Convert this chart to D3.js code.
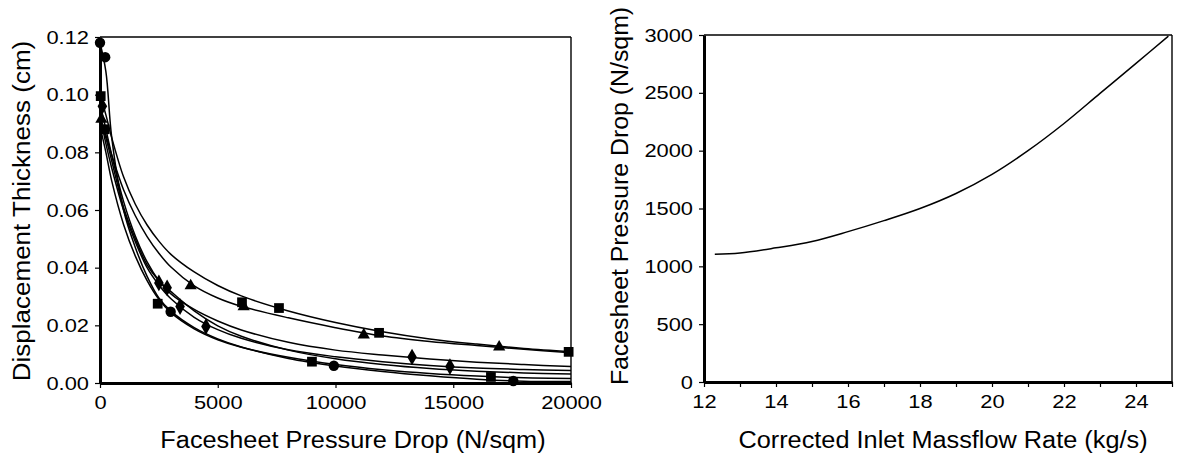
<!DOCTYPE html>
<html>
<head>
<meta charset="utf-8">
<script src="https://cdn.jsdelivr.net/npm/d3@7"></script>
<style>
  body { margin: 0; background: #fff; }
  text { font-family: "Liberation Sans", Arial, Helvetica, sans-serif; fill: #000; }
</style>
</head>
<body>
<svg id="chart" width="1179" height="468"></svg>
<script>
// ---- left panel: fitted curves, read at a common pressure grid ----
var pressureGrid = [0, 250, 500, 1000, 1500, 2000, 2500, 3000, 4000, 5000, 6000, 8000, 10000, 12000, 14000, 16000, 18000, 20000];
var fitS  = [0.100, 0.093, 0.085, 0.0715, 0.062, 0.0548, 0.0492, 0.0447, 0.0385, 0.0338, 0.0302, 0.0250, 0.0210, 0.0178, 0.0153, 0.0135, 0.0120, 0.0109];
var fitT  = [0.0925, 0.086, 0.079, 0.067, 0.058, 0.0508, 0.0450, 0.0403, 0.0337, 0.0295, 0.0266, 0.0226, 0.0192, 0.0163, 0.0144, 0.0130, 0.0117, 0.0105];
var fitD1 = [0.097, 0.088, 0.079, 0.063, 0.051, 0.042, 0.0355, 0.0310, 0.0255, 0.0215, 0.0184, 0.0141, 0.0114, 0.0097, 0.0083, 0.0072, 0.0064, 0.0057];
var fitD2 = [0.091, 0.085, 0.077, 0.061, 0.050, 0.041, 0.0355, 0.0318, 0.0250, 0.0198, 0.0162, 0.0114, 0.0084, 0.0064, 0.0050, 0.0041, 0.0035, 0.0031];
var fitD3 = [0.093, 0.083, 0.0745, 0.060, 0.049, 0.040, 0.0340, 0.0293, 0.0228, 0.0185, 0.0155, 0.0115, 0.0091, 0.0074, 0.0061, 0.0052, 0.0047, 0.0043];
var fitSq = [0.089, 0.080, 0.070, 0.055, 0.044, 0.0355, 0.0290, 0.0245, 0.0188, 0.0150, 0.0124, 0.0089, 0.0064, 0.0046, 0.0033, 0.0024, 0.0018, 0.0016];
var fitCi = [0.118, 0.108, 0.085, 0.060, 0.047, 0.0370, 0.0295, 0.0250, 0.0192, 0.0153, 0.0125, 0.0085, 0.0059, 0.0040, 0.0025, 0.0013, 0.0006, 0.0005];

// ---- left panel: measured points ----
var ptsSx  = [30, 6030, 7600, 11850, 19900];
var ptsSy  = [0.0995, 0.028, 0.026, 0.0174, 0.0108];
var ptsTx  = [60, 3850, 6100, 11200, 16950];
var ptsTy  = [0.0915, 0.0337, 0.0265, 0.0167, 0.0125];
var ptsD1x = [100, 2500, 13250];
var ptsD1y = [0.096, 0.0347, 0.009];
var ptsD2x = [2850];
var ptsD2y = [0.033];
var ptsD3x = [3400, 4500, 14860];
var ptsD3y = [0.0265, 0.0196, 0.0057];
var ptsSqx = [200, 2450, 9000, 16600];
var ptsSqy = [0.088, 0.0275, 0.0074, 0.0021];
var ptsCix = [0, 220, 3000, 9930, 17550];
var ptsCiy = [0.118, 0.113, 0.0247, 0.006, 0.0007];

// ---- right panel ----
var massflow = [12.3, 13, 14, 15, 16, 17, 18, 19, 20, 21, 22, 23, 24, 24.9];
var pressureDrop = [1105, 1115, 1160, 1215, 1300, 1395, 1500, 1630, 1795, 2000, 2235, 2495, 2755, 2990];

var leftXTicks = [0, 5000, 10000, 15000, 20000];
var leftYTicks = [0, 0.02, 0.04, 0.06, 0.08, 0.10, 0.12];
var rightXTicks = [12, 13, 14, 15, 16, 17, 18, 19, 20, 21, 22, 23, 24, 25];
var rightXLabels = [12, 14, 16, 18, 20, 22, 24];
var rightYTicks = [0, 500, 1000, 1500, 2000, 2500, 3000];

var svg = d3.select("#chart");

// widen text a little, the scanned original is stretched horizontally
function stretch(sel, k) {
  sel.each(function() {
    var w = this.getComputedTextLength();
    d3.select(this).attr("textLength", w * k).attr("lengthAdjust", "spacingAndGlyphs");
  });
}

function drawFrame(g, x, y) {
  var x0 = x.range()[0], x1 = x.range()[1], y0 = y.range()[0], y1 = y.range()[1];
  g.append("line").attr("x1", x0).attr("x2", x1).attr("y1", y1).attr("y2", y1)
    .attr("stroke", "#000").attr("stroke-width", 1.4);
  g.append("line").attr("x1", x1).attr("x2", x1).attr("y1", y1).attr("y2", y0)
    .attr("stroke", "#000").attr("stroke-width", 1.4);
}

function styleAxis(ax) {
  ax.select(".domain").attr("stroke", "#000").attr("stroke-width", 3);
  ax.selectAll(".tick line").attr("stroke", "#000").attr("stroke-width", 1.2);
  ax.selectAll(".tick text").attr("font-size", 19).attr("fill", "#000")
    .attr("font-family", "Liberation Sans, Arial, sans-serif");
  stretch(ax.selectAll(".tick text"), 1.15);
}

// ================= left chart =================
var xL = d3.scaleLinear().domain([0, 20000]).range([100, 571]);
var yL = d3.scaleLinear().domain([0, 0.12]).range([383, 37]);
var gL = svg.append("g");

drawFrame(gL, xL, yL);

var curveLine = d3.line()
  .x(function(d) { return xL(d[0]); })
  .y(function(d) { return yL(d[1]); })
  .curve(d3.curveCatmullRom.alpha(0.5));

var fits = [fitS, fitT, fitD1, fitD2, fitD3, fitSq, fitCi];
fits.forEach(function(f) {
  gL.append("path")
    .datum(pressureGrid.map(function(p, i) { return [p, f[i]]; }))
    .attr("d", curveLine)
    .attr("fill", "none")
    .attr("stroke", "#000")
    .attr("stroke-width", 1.5);
});

var pointSets = [
  { xs: ptsSx, ys: ptsSy, shape: d3.symbolSquare, size: 95 },
  { xs: ptsTx, ys: ptsTy, shape: d3.symbolTriangle, size: 65 },
  { xs: ptsD1x, ys: ptsD1y, shape: d3.symbolDiamond, size: 80 },
  { xs: ptsD2x, ys: ptsD2y, shape: d3.symbolDiamond, size: 80 },
  { xs: ptsD3x, ys: ptsD3y, shape: d3.symbolDiamond, size: 80 },
  { xs: ptsSqx, ys: ptsSqy, shape: d3.symbolSquare, size: 95 },
  { xs: ptsCix, ys: ptsCiy, shape: d3.symbolCircle, size: 85 }
];
pointSets.forEach(function(s) {
  gL.selectAll(null)
    .data(s.xs.map(function(v, i) { return [v, s.ys[i]]; }))
    .enter()
    .append("path")
    .attr("d", d3.symbol().type(s.shape).size(s.size))
    .attr("transform", function(d) { return "translate(" + xL(d[0]) + "," + yL(d[1]) + ")"; })
    .attr("fill", "#000");
});

var axLx = gL.append("g").attr("transform", "translate(0,383)")
  .call(d3.axisBottom(xL).tickValues(leftXTicks).tickFormat(d3.format("d")).tickSize(5).tickSizeOuter(0).tickPadding(8));
styleAxis(axLx);
var axLy = gL.append("g").attr("transform", "translate(100,0)")
  .call(d3.axisLeft(yL).tickValues(leftYTicks).tickFormat(d3.format(".2f")).tickSize(5).tickSizeOuter(0).tickPadding(6));
styleAxis(axLy);

var tL1 = gL.append("text").attr("x", 353).attr("y", 448).attr("text-anchor", "middle")
  .attr("font-size", 23).text("Facesheet Pressure Drop (N/sqm)");
stretch(tL1, 1.1);
var tL2 = gL.append("text").attr("transform", "translate(30,211) rotate(-90)").attr("text-anchor", "middle")
  .attr("font-size", 23).text("Displacement Thickness (cm)");
stretch(tL2, 1.13);

// ================= right chart =================
var xR = d3.scaleLinear().domain([12, 25]).range([704, 1172]);
var yR = d3.scaleLinear().domain([0, 3000]).range([382, 35]);
var gR = svg.append("g");

drawFrame(gR, xR, yR);

gR.append("path")
  .datum(massflow.map(function(m, i) { return [m, pressureDrop[i]]; }))
  .attr("d", d3.line()
    .x(function(d) { return xR(d[0]); })
    .y(function(d) { return yR(d[1]); })
    .curve(d3.curveCatmullRom.alpha(0.5)))
  .attr("fill", "none")
  .attr("stroke", "#000")
  .attr("stroke-width", 1.5);

var axRx = gR.append("g").attr("transform", "translate(0,382)")
  .call(d3.axisBottom(xR).tickValues(rightXTicks)
    .tickFormat(function(d) { return rightXLabels.indexOf(d) >= 0 ? d : ""; })
    .tickSize(5).tickSizeOuter(0).tickPadding(8));
styleAxis(axRx);
var axRy = gR.append("g").attr("transform", "translate(704,0)")
  .call(d3.axisLeft(yR).tickValues(rightYTicks).tickFormat(d3.format("d")).tickSize(5).tickSizeOuter(0).tickPadding(6));
styleAxis(axRy);

var tR1 = gR.append("text").attr("x", 943).attr("y", 448).attr("text-anchor", "middle")
  .attr("font-size", 23).text("Corrected Inlet Massflow Rate (kg/s)");
stretch(tR1, 1.1);
var tR2 = gR.append("text").attr("transform", "translate(628,196) rotate(-90)").attr("text-anchor", "middle")
  .attr("font-size", 23).text("Facesheet Pressure Drop (N/sqm)");
stretch(tR2, 1.08);
</script>
</body>
</html>
